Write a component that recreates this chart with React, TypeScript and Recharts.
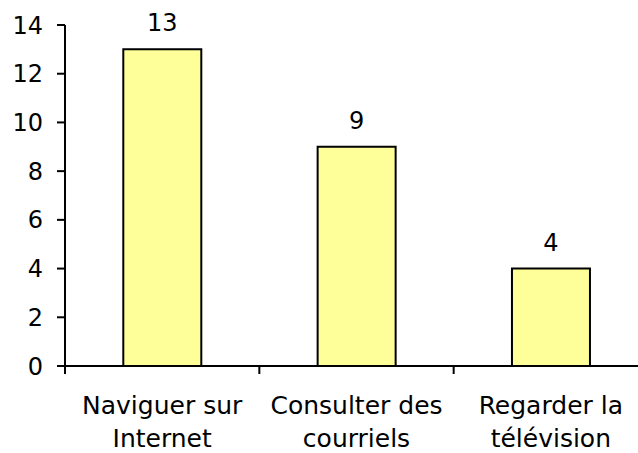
import { BarChart, Bar, XAxis, YAxis, LabelList } from "recharts";

const categories = ["Naviguer sur\nInternet", "Consulter des\ncourriels", "Regarder la\ntélévision"];
const counts = [13, 9, 4];
const yTicks = [0, 2, 4, 6, 8, 10, 12, 14];

const data = categories.map((name, i) => ({ name, value: counts[i] }));

const FONT = "'DejaVu Sans', Verdana, sans-serif";

// two-line category label, plus the tick mark at the left edge of each band
function CategoryTick({ x, y, payload }: any) {
  const lines = String(payload.value).split("\n");
  const half = payload.offset || 0;
  return (
    <g>
      <line x1={x - half} x2={x - half} y1={y} y2={y + 8} stroke="#000" strokeWidth={2} />
      <text x={x} y={y} textAnchor="middle" fill="#000" fontSize={25} fontFamily={FONT}>
        {lines.map((line, i) => (
          <tspan key={i} x={x} dy={i === 0 ? 48 : 33}>
            {line}
          </tspan>
        ))}
      </text>
    </g>
  );
}

export default function App() {
  return (
    <div style={{ position: "absolute", left: 0, top: 0, width: 638, height: 453, overflow: "hidden", background: "#fff" }}>
      <BarChart
        width={648}
        height={453}
        data={data}
        margin={{ top: 25, right: 0, bottom: 0, left: 0 }}
        barCategoryGap="30%"
      >
        <XAxis
          dataKey="name"
          height={87}
          interval={0}
          axisLine={{ stroke: "#000", strokeWidth: 2 }}
          tickLine={false}
          tickSize={0}
          tickMargin={0}
          tick={<CategoryTick />}
        />
        <YAxis
          width={65}
          domain={[0, 14]}
          ticks={yTicks}
          interval={0}
          axisLine={{ stroke: "#000", strokeWidth: 2 }}
          tickLine={{ stroke: "#000", strokeWidth: 2 }}
          tickSize={8}
          tickMargin={14}
          tick={{ fill: "#000", fontSize: 24, fontFamily: FONT }}
        />
        <Bar dataKey="value" fill="#FFFF99" stroke="#000" strokeWidth={2} isAnimationActive={false}>
          <LabelList dataKey="value" position="top" offset={18} fill="#000" fontSize={24} fontFamily={FONT} />
        </Bar>
      </BarChart>
    </div>
  );
}
